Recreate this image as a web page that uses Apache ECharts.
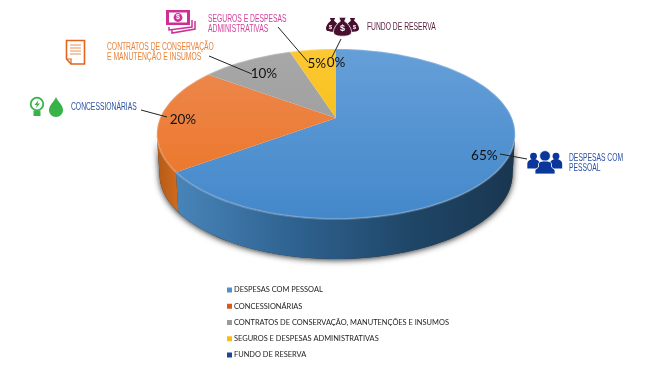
<!DOCTYPE html>
<html>
<head>
<meta charset="utf-8">
<style>
  html, body { margin: 0; padding: 0; background: #fff; }
  #chart { width: 656px; height: 378px; }
</style>
<script src="https://cdn.jsdelivr.net/npm/echarts@6/dist/echarts.min.js"></script>
</head>
<body>
<div id="chart"></div>
<script>
const categories = [
  'DESPESAS COM PESSOAL',
  'CONCESSIONÁRIAS',
  'CONTRATOS DE CONSERVAÇÃO, MANUTENÇÕES E INSUMOS',
  'SEGUROS E DESPESAS ADMINISTRATIVAS',
  'FUNDO DE RESERVA',
]
const values = [65, 20, 10, 5, 0]
const legendColors = ['#4f90cf', '#d9581c', '#9a9a9a', '#fdbb12', '#1d439a']
const topColors = [
  ['#659fd8', '#4488ca'],
  ['#ec8a52', '#ec7220'],
  ['#a8a8a8', '#959595'],
  ['#fcc833', '#efb900'],
  ['#1d439a', '#1d439a'],
]

// perspective of the tilted pie, measured on the picture
const CX = 336
const CY = 134
const RX = 176
const RY = 85
const APEX = -16
const TILT = -0.188
const DEPTH = 40
const BOTTOM_SCALE = 0.985
const LABEL_RADIUS = [0.875, 0.87, 0.78, 0.8, 0.8]
const LABEL_DY = 2
const WALL_FROM = 101
const WALL_TO = 259

const total = values.reduce((a, b) => a + b, 0)
const startAngles = values.map((_, i) => values.slice(0, i).reduce((a, b) => a + b, 0) / total * 360)

const project = (deg, r = 1) => {
  const a = deg * Math.PI / 180
  const u = Math.sin(a) * r
  const v = -Math.cos(a) * r
  const d = 1 + TILT * v
  return [CX + RX * u / d, CY + (RY * v + APEX) / d]
}

const arcPoints = (from, to) => {
  const pts = []
  const steps = Math.max(1, Math.ceil((to - from) / 2))
  for (let i = 0; i <= steps; i++) {
    pts.push(project(from + (to - from) * i / steps))
  }
  return pts
}

const dropPoint = p => [CX + (p[0] - CX) * BOTTOM_SCALE, p[1] + DEPTH]

const wallPolygon = (from, to) => {
  const top = arcPoints(from, to)
  return top.concat(top.map(dropPoint).reverse())
}

const wallFill = [
  { type: 'linear', x: 170, y: 0, x2: 515, y2: 0, global: true, colorStops: [
    { offset: 0, color: '#4a86bb' },
    { offset: 0.35, color: '#2f6391' },
    { offset: 0.7, color: '#1f4667' },
    { offset: 1, color: '#1a3650' },
  ] },
  { type: 'linear', x: 156, y: 0, x2: 178, y2: 0, global: true, colorStops: [
    { offset: 0, color: '#b25a18' },
    { offset: 1, color: '#d06a1d' },
  ] },
]

const renderSlice = i => () => {
  const from = startAngles[i]
  const to = from + values[i] / total * 360
  const children = []

  if (i === 0) {
    children.push({
      type: 'polygon',
      shape: { points: wallPolygon(WALL_FROM, WALL_TO) },
      style: { fill: '#333', shadowBlur: 6, shadowColor: 'rgba(0,0,0,0.85)', shadowOffsetX: 0, shadowOffsetY: 1 },
    })
  }

  const wallFrom = Math.max(from, WALL_FROM)
  const wallTo = Math.min(to, WALL_TO)
  if (wallTo > wallFrom) {
    children.push({
      type: 'polygon',
      shape: { points: wallPolygon(wallFrom, wallTo) },
      style: { fill: wallFill[i] },
    })
  }

  if (values[i] > 0) {
    const rim = arcPoints(from, to)
    children.push({
      type: 'polygon',
      shape: { points: [project(0, 0)].concat(rim) },
      style: {
        fill: {
          type: 'linear', x: 0, y: 49, x2: 0, y2: 218, global: true,
          colorStops: [
            { offset: 0, color: topColors[i][0] },
            { offset: 1, color: topColors[i][1] },
          ],
        },
      },
    })
    children.push({
      type: 'polyline',
      shape: { points: rim },
      style: { fill: null, stroke: 'rgba(255,255,255,0.22)', lineWidth: 2 },
    })
  }

  const mid = (from + to) / 2
  const at = project(mid, LABEL_RADIUS[i])
  children.push({
    type: 'text',
    style: {
      text: values[i] + '%',
      x: at[0],
      y: at[1] + LABEL_DY,
      align: 'center',
      verticalAlign: 'middle',
      fontFamily: 'Lato',
      fontSize: 13.5,
      fill: '#111',
    },
  })
  return { type: 'group', children }
}

// callouts around the pie
const callouts = [
  { lines: ['SEGUROS E DESPESAS', 'ADMINISTRATIVAS'], x: 208, y: 19, color: '#d2429c' },
  { lines: ['CONTRATOS DE CONSERVAÇÃO', 'E MANUTENÇÃO E INSUMOS'], x: 107, y: 47, color: '#e8833a' },
  { lines: ['CONCESSIONÁRIAS'], x: 71, y: 107, color: '#2c51a3' },
  { lines: ['FUNDO DE RESERVA'], x: 367, y: 27, color: '#5c2343' },
  { lines: ['DESPESAS COM', 'PESSOAL'], x: 569, y: 158, color: '#2c51a3' },
]
const leaders = [
  [[278, 27], [308, 62]],
  [[209, 56], [252, 74]],
  [[141, 110], [167, 117]],
  [[341, 39], [332, 57]],
  [[500, 154], [527, 159]],
]

const calloutText = callouts.flatMap(c => c.lines.map((line, n) => ({
  type: 'text',
  x: c.x,
  y: c.y + n * 10.5,
  scaleX: 0.675,
  style: {
    text: line,
    verticalAlign: 'middle',
    fontFamily: 'Liberation Sans',
    fontSize: 10,
    fill: c.color,
  },
})))

const leaderLines = leaders.map(points => ({
  type: 'polyline',
  shape: { points },
  style: { fill: null, stroke: '#222', lineWidth: 1 },
}))

const bagPath = (x, y, s) => `M${x - 2 * s} ${y - 5 * s}L${x + 2 * s} ${y - 5 * s}L${x + 1.2 * s} ${y - 2.8 * s}`
  + `C${x + 4 * s} ${y - 1 * s} ${x + 5 * s} ${y + 2 * s} ${x + 5 * s} ${y + 3 * s}`
  + `C${x + 5 * s} ${y + 5 * s} ${x + 3 * s} ${y + 5.5 * s} ${x} ${y + 5.5 * s}`
  + `C${x - 3 * s} ${y + 5.5 * s} ${x - 5 * s} ${y + 5 * s} ${x - 5 * s} ${y + 3 * s}`
  + `C${x - 5 * s} ${y + 2 * s} ${x - 4 * s} ${y - 1 * s} ${x - 1.2 * s} ${y - 2.8 * s}Z`

const dollar = (x, y, size) => ({
  type: 'text',
  style: { text: '$', x, y, align: 'center', verticalAlign: 'middle', fontFamily: 'Liberation Sans', fontWeight: 'bold', fontSize: size, fill: '#fff' },
})

const person = (x, y, s, color) => [
  { type: 'circle', shape: { cx: x, cy: y - 5 * s, r: 3.6 * s }, style: { fill: color } },
  { type: 'path', shape: { pathData: `M${x - 6.5 * s} ${y + 8 * s}L${x - 6.5 * s} ${y + 3 * s}C${x - 6.5 * s} ${y} ${x - 3 * s} ${y - 2 * s} ${x} ${y - 2 * s}C${x + 3 * s} ${y - 2 * s} ${x + 6.5 * s} ${y} ${x + 6.5 * s} ${y + 3 * s}L${x + 6.5 * s} ${y + 8 * s}Z` }, style: { fill: color } },
]

const MAGENTA = '#cf2f94'
const moneyIcon = [
  { type: 'polyline', shape: { points: [[172, 30], [172, 33], [195, 29], [195, 21]] }, style: { fill: null, stroke: MAGENTA, lineWidth: 1.5 } },
  { type: 'polyline', shape: { points: [[169, 27], [169, 30], [192, 27], [192, 20]] }, style: { fill: null, stroke: MAGENTA, lineWidth: 1.5 } },
  { type: 'rect', shape: { x: 166, y: 10, width: 24, height: 15 }, style: { fill: MAGENTA } },
  { type: 'rect', shape: { x: 169, y: 12.5, width: 18, height: 10 }, style: { fill: '#fff' } },
  { type: 'circle', shape: { cx: 178, cy: 17.5, r: 4.4 }, style: { fill: MAGENTA } },
  dollar(178, 17.5, 7),
]

const ORANGE = '#e2641f'
const docIcon = [
  { type: 'polygon', shape: { points: [[66.5, 40.5], [84.5, 40.5], [84.5, 64], [71, 64], [66.5, 59]] }, style: { fill: '#fff', stroke: ORANGE, lineWidth: 1.6 } },
  { type: 'polyline', shape: { points: [[71, 64], [71, 59], [66.5, 59]] }, style: { fill: null, stroke: ORANGE, lineWidth: 1.2 } },
  ...[45, 48, 51, 54].map(y => ({ type: 'line', shape: { x1: 70, y1: y, x2: 81, y2: y }, style: { stroke: '#e8945a', lineWidth: 1 } })),
]

const GREEN = '#37b34a'
const utilityIcon = [
  { type: 'circle', shape: { cx: 37, cy: 104, r: 6.3 }, style: { fill: '#fff', stroke: GREEN, lineWidth: 1.8 } },
  { type: 'polygon', shape: { points: [[38.5, 100], [34.5, 105], [37, 105], [35.5, 108.5], [40, 103.5], [37.5, 103.5]] }, style: { fill: GREEN } },
  { type: 'rect', shape: { x: 33.5, y: 110.5, width: 7, height: 5.5 }, style: { fill: GREEN } },
  { type: 'path', shape: { pathData: 'M56 97C58 102 63 105 63 110C63 114 60 117 56 117C52 117 49 114 49 110C49 105 54 102 56 97Z' }, style: { fill: GREEN } },
]

const PLUM = '#47102f'
const bagIcon = [
  { type: 'path', shape: { pathData: bagPath(332.5, 24.5, 1.3) }, style: { fill: PLUM } },
  { type: 'path', shape: { pathData: bagPath(352.5, 24.5, 1.3) }, style: { fill: PLUM } },
  { type: 'path', shape: { pathData: bagPath(342.5, 26.3, 1.8) }, style: { fill: PLUM, stroke: '#fff', lineWidth: 0.8 } },
  dollar(330.5, 27, 6),
  dollar(354.5, 27, 6),
  dollar(342.5, 29, 9),
]

const NAVY = '#0b379c'
const peopleIcon = [
  ...person(533.5, 161, 0.95, NAVY),
  ...person(556, 161, 0.95, NAVY),
  { type: 'circle', shape: { cx: 545, cy: 156, r: 5.4 }, style: { fill: NAVY, stroke: '#fff', lineWidth: 0.8 } },
  { type: 'path', shape: { pathData: 'M535 174L535 170L538.5 167L538.5 164C538.5 162 541 161 545 161C549 161 551.5 162 551.5 164L551.5 167L555 170L555 174Z' }, style: { fill: NAVY, stroke: '#fff', lineWidth: 0.8 } },
]

const renderDecor = () => ({
  type: 'group',
  children: [
    ...calloutText,
    ...leaderLines,
    ...moneyIcon,
    ...docIcon,
    ...utilityIcon,
    ...bagIcon,
    ...peopleIcon,
  ],
})

const chart = echarts.init(document.getElementById('chart'), null, { renderer: 'canvas' })
chart.setOption({
  animation: false,
  backgroundColor: '#fff',
  color: legendColors,
  tooltip: { show: false },
  legend: {
    orient: 'vertical',
    left: 227,
    top: 285,
    padding: 0,
    itemWidth: 5,
    itemHeight: 5,
    itemGap: 6.25,
    icon: 'rect',
    selectedMode: false,
    textStyle: { color: '#222', fontFamily: 'Lato', fontSize: 7.45, lineHeight: 10, padding: [0, 0, 0, -3] },
    data: categories,
  },
  series: [
    ...categories.map((name, i) => ({
      name,
      type: 'custom',
      coordinateSystem: 'none',
      silent: true,
      renderItem: renderSlice(i),
      data: [values[i]],
    })),
    {
      name: 'callouts',
      type: 'custom',
      coordinateSystem: 'none',
      silent: true,
      renderItem: renderDecor,
      data: [0],
    },
  ],
})
</script>
</body>
</html>
